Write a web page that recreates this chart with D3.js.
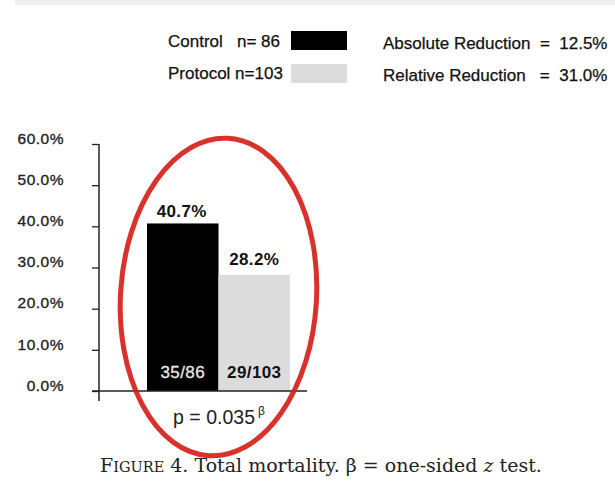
<!DOCTYPE html>
<html>
<head>
<meta charset="utf-8">
<script src="https://cdn.jsdelivr.net/npm/d3@7"></script>
<style>
  body { margin: 0; background: #fff; }
  svg { display: block; }
  .tick text { font-family: "Liberation Sans", Arial, sans-serif; }
</style>
</head>
<body>
<script>
// chart data
var groups = ["Control", "Protocol"],
	mortality = [40.7, 28.2],
	counts = ["35/86", "29/103"],
	barColors = ["#000000", "#dcdcdc"],
	yTicks = [0, 10, 20, 30, 40, 50, 60];

// legend / summary text
var legendLabels = ["Control   n= 86", "Protocol n=103"],
	summaryLabels = ["Absolute Reduction  =  12.5%", "Relative Reduction   =  31.0%"],
	pValue = "p = 0.035";

var W = 615, H = 490;
var font = "'Liberation Sans', Arial, sans-serif";

var svg = d3.select("body").append("svg")
	.attr("width", W)
	.attr("height", H);

// grey strip at the very top (page scan edge)
svg.append("rect")
	.attr("x", 15).attr("y", 0)
	.attr("width", W - 15).attr("height", 5)
	.attr("fill", "#efefef");

//////////////
// scales
//////////////
var yScale = d3.scaleLinear().domain([0, 60]).range([391, 144]);
var xScale = d3.scaleBand().domain(groups).range([147, 290]).padding(0);

//////////////
// axes
//////////////
var yAxis = d3.axisLeft(yScale)
	.tickValues(yTicks)
	.tickSize(7)
	.tickPadding(28)
	.tickFormat(function(d) { return d.toFixed(1) + "%"; });

var gY = svg.append("g")
	.attr("transform", "translate(99,0)")
	.call(yAxis);
gY.select(".domain").remove();
gY.selectAll(".tick line").attr("stroke", "#222").attr("stroke-width", 1.3);
gY.selectAll(".tick text")
	.attr("dy", "-0.05em")
	.style("font-size", "15.5px")
	.style("letter-spacing", "0.5px")
	.attr("fill", "#222")
	.attr("stroke", "#222")
	.attr("stroke-width", 0.35);

// vertical axis line (runs a little below the baseline)
svg.append("line")
	.attr("x1", 99).attr("x2", 99)
	.attr("y1", yScale(60)).attr("y2", yScale(0) + 10)
	.attr("stroke", "#222").attr("stroke-width", 1.5);

//////////////
// bars
//////////////
svg.append("g").selectAll("rect")
	.data(groups).enter()
		.append("rect")
		.attr("x", function(d) { return xScale(d); })
		.attr("y", function(d, i) { return yScale(mortality[i]); })
		.attr("width", xScale.bandwidth())
		.attr("height", function(d, i) { return yScale(0) - yScale(mortality[i]); })
		.attr("fill", function(d, i) { return barColors[i]; });

// baseline
svg.append("line")
	.attr("x1", 92).attr("x2", 307)
	.attr("y1", yScale(0)).attr("y2", yScale(0))
	.attr("stroke", "#222").attr("stroke-width", 1.5);

// value labels above bars
svg.append("g").selectAll("text")
	.data(groups).enter()
		.append("text")
		.attr("x", function(d) { return xScale(d) + xScale.bandwidth() / 2 + (d == "Control" ? -1 : 0); })
		.attr("y", function(d, i) { return yScale(mortality[i]) - (i == 0 ? 6 : 10); })
		.attr("text-anchor", "middle")
		.style("font-family", font)
		.style("font-weight", "bold")
		.style("font-size", "17px")
		.style("letter-spacing", "0.4px")
		.attr("fill", "#111")
		.text(function(d, i) { return mortality[i].toFixed(1) + "%"; });

// counts inside the bars
svg.append("g").selectAll("text")
	.data(groups).enter()
		.append("text")
		.attr("x", function(d) { return xScale(d) + xScale.bandwidth() / 2; })
		.attr("y", yScale(0) - 13)
		.attr("text-anchor", "middle")
		.style("font-family", font)
		.style("font-weight", function(d, i) { return i == 0 ? "normal" : "bold"; })
		.style("font-size", "17px")
		.style("letter-spacing", "0.4px")
		.attr("fill", function(d, i) { return i == 0 ? "#e8e8e8" : "#111"; })
		.attr("stroke", function(d, i) { return i == 0 ? "#e8e8e8" : "none"; })
		.attr("stroke-width", 0.3)
		.text(function(d, i) { return counts[i]; });

// p value under the axis
var pText = svg.append("text")
	.attr("x", 219)
	.attr("y", yScale(0) + 33)
	.attr("text-anchor", "middle")
	.style("font-family", font)
	.style("font-size", "19.5px")
	.attr("fill", "#222")
	.text(pValue);
pText.append("tspan")
	.attr("dy", "-9")
	.attr("dx", "3")
	.style("font-size", "12px")
	.text("\u03B2");

//////////////
// legend
//////////////
var legend = svg.append("g");
legend.selectAll("text.lg")
	.data(legendLabels).enter()
		.append("text")
		.attr("class", "lg")
		.attr("x", 168)
		.attr("y", function(d, i) { return 47 + i * 32; })
		.style("font-family", font)
		.style("font-size", "17px")
		.style("white-space", "pre")
		.attr("xml:space", "preserve")
		.attr("fill", "#111")
		.attr("stroke", "#111")
		.attr("stroke-width", 0.25)
		.text(function(d) { return d; });

legend.selectAll("rect")
	.data(barColors).enter()
		.append("rect")
		.attr("x", 291)
		.attr("y", function(d, i) { return 31 + i * 33; })
		.attr("width", 56)
		.attr("height", 19)
		.attr("fill", function(d) { return d; });

legend.selectAll("text.sm")
	.data(summaryLabels).enter()
		.append("text")
		.attr("class", "sm")
		.attr("x", 383)
		.attr("y", function(d, i) { return 49 + i * 32; })
		.style("font-family", font)
		.style("font-size", "17px")
		.attr("xml:space", "preserve")
		.style("white-space", "pre")
		.attr("fill", "#111")
		.attr("stroke", "#111")
		.attr("stroke-width", 0.25)
		.text(function(d) { return d; });

//////////////
// red hand-drawn ellipse round the bars
//////////////
var cx = xScale.range()[0] + (xScale.range()[1] - xScale.range()[0]) / 2;
svg.append("ellipse")
	.attr("cx", cx)
	.attr("cy", 297)
	.attr("rx", 98)
	.attr("ry", 159)
	.attr("transform", "rotate(3.5," + cx + ",297)")
	.attr("fill", "none")
	.attr("stroke", "#d4221a")
	.attr("stroke-width", 5)
	.attr("opacity", 0.92);

//////////////
// caption
//////////////
var cap = svg.append("text")
	.attr("x", 100)
	.attr("y", 472)
	.style("font-family", "'DejaVu Serif', 'Liberation Serif', serif")
	.style("font-size", "19px")
	.attr("fill", "#222");
cap.append("tspan").text("F");
cap.append("tspan").style("font-size", "14.5px").text("IGURE");
cap.append("tspan").text(" 4. Total mortality. \u03B2 = one-sided ");
cap.append("tspan").style("font-style", "italic").text("z");
cap.append("tspan").text(" test.");
</script>
</body>
</html>
